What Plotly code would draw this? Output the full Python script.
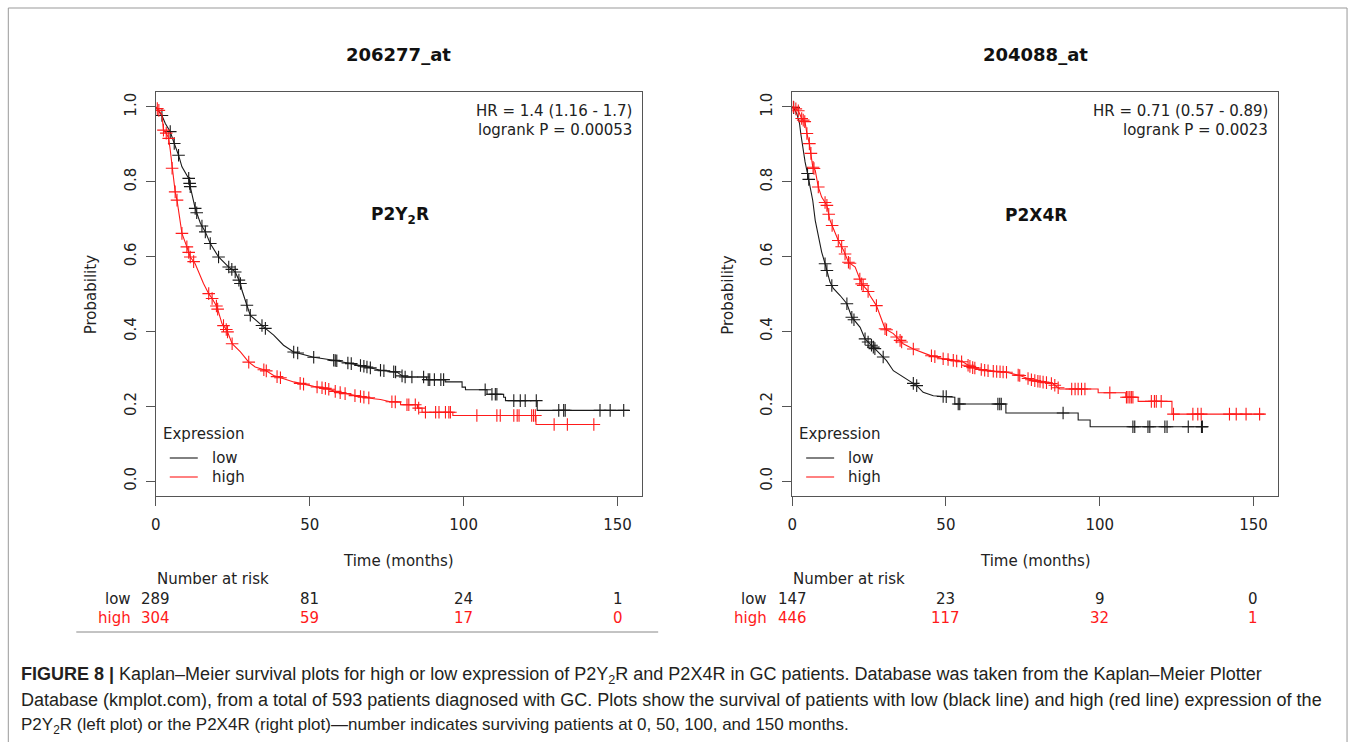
import numpy as np
import plotly.graph_objects as go

W, H = 1355, 742

# ---------------- data ----------------
L_low_t = [0, 2, 3.1, 4.7, 5.8, 7.4, 8.5, 10.7, 11.2, 12.8, 14.5, 16.1, 17.7, 20.4, 23.7, 25.8, 27.5, 28,
           29.6, 30.7, 35, 38.3, 41.5, 44.8, 51.3, 57.8, 66.5, 73, 78.4, 80.5, 88, 88, 94, 94, 99.5, 99.5,
           100.6, 100.6, 107.6, 107.6, 113, 113, 113.6, 113.6, 123.9, 123.9, 153.7]
L_low_s = [1, 0.977, 0.956, 0.934, 0.907, 0.871, 0.840, 0.809, 0.787, 0.729, 0.689, 0.666, 0.635, 0.599, 0.572,
           0.559, 0.528, 0.51, 0.47, 0.443, 0.412, 0.39, 0.363, 0.345, 0.331, 0.323, 0.309, 0.296, 0.291, 0.278,
           0.278, 0.271, 0.271, 0.265, 0.265, 0.251, 0.251, 0.244, 0.244, 0.232, 0.232, 0.224, 0.224, 0.215,
           0.215, 0.189, 0.189]
L_high_t = [0, 0.9, 2, 2.5, 3.4, 4.2, 4.7, 5.3, 6.3, 6.9, 8.5, 10.1, 11.2, 12.8, 14.5, 15.5, 17.2, 18.3, 19.9,
            21.5, 23.1, 24.8, 27.5, 30.2, 32.3, 35.6, 38.3, 44.8, 51.3, 55.6, 58.9, 64.3, 70.8, 73, 76.2, 79.5,
            79.5, 85, 85, 86.5, 86.5, 96.5, 96.5, 123.5, 123.5, 143.9]
L_high_s = [1, 0.992, 0.979, 0.938, 0.93, 0.916, 0.885, 0.836, 0.773, 0.751, 0.662, 0.626, 0.599, 0.581, 0.546,
            0.528, 0.501, 0.488, 0.465, 0.421, 0.403, 0.367, 0.345, 0.318, 0.305, 0.296, 0.282, 0.265, 0.253,
            0.247, 0.238, 0.229, 0.220, 0.218, 0.212, 0.211, 0.204, 0.204, 0.195, 0.195, 0.184, 0.184, 0.175,
            0.175, 0.151, 0.151]
L_low_cens = [2, 4.7, 6, 7.4, 10.7, 11, 11.2, 12.8, 13.3, 15, 16.1, 17.7, 20.4, 23.7, 24.7, 25.8, 27, 27.5,
              29.6, 30.7, 34.5, 35.6, 44.8, 46.1, 51.3, 57.8, 58.3, 58.8, 62.4, 63.5, 66.5, 67.6, 68.6, 69.7,
              73, 74.1, 77.3, 77.9, 80, 81, 83.2, 87, 88.5, 89, 90.5, 92.6, 93.5, 107, 109.2, 110.3, 110.8,
              116.3, 118.4, 120, 123.6, 130.9, 132.5, 133, 144.3, 147.6, 152]
L_high_cens = [0.5, 1, 2.5, 3.4, 4.2, 5.3, 6.3, 6.9, 8.5, 10.1, 10.7, 11.2, 12.3, 17.2, 18.3, 19.7, 20.1, 22,
               22.9, 23.3, 24.8, 30.2, 35.1, 35.9, 39.4, 40.5, 46.9, 48, 52.4, 54, 55.1, 56.2, 58.3, 59.9,
               61.5, 64.7, 66.5, 67.6, 69.2, 76.7, 77.8, 81.6, 82.2, 84.3, 85.4, 87.6, 90.9, 92, 94.1, 95.2,
               95.7, 104.3, 110.8, 111.9, 116.3, 117.4, 118, 122.1, 122.7, 123.3, 129.4, 133.7, 142.3]

R_low_t = [0, 0.4, 1.5, 2.4, 2.8, 3.5, 4.2, 5, 5.8, 6.7, 7.5, 8.5, 9.6, 10.7, 12.3, 13.4, 15.6, 17.8, 19.4,
           22.1, 23.7, 26.4, 28.6, 30.7, 32.9, 37.2, 40.5, 42.6, 45.9, 52.9, 52.9, 69.5, 69.5, 93, 93, 96.9,
           96.9, 135.2]
R_low_s = [1, 1.0, 0.982, 0.956, 0.929, 0.884, 0.853, 0.822, 0.791, 0.75, 0.697, 0.652, 0.612, 0.581, 0.532,
           0.515, 0.496, 0.474, 0.438, 0.411, 0.38, 0.358, 0.34, 0.322, 0.295, 0.273, 0.255, 0.237, 0.228,
           0.224, 0.206, 0.206, 0.182, 0.182, 0.163, 0.163, 0.145, 0.145]
R_high_t = [0, 0.4, 2, 3.1, 4.2, 4.8, 5.6, 6.1, 6.7, 7.5, 8.5, 9.6, 11.3, 12.3, 15, 16.7, 18.3, 20.5, 22.6,
            24.5, 25.3, 27.4, 29.1, 30.2, 32.9, 35.1, 36.1, 39.4, 44.8, 49.1, 55.6, 58.3, 63.2, 69.7, 74, 78.4,
            84.8, 87, 99.5, 99.5, 108.5, 108.5, 112.5, 112.5, 123.5, 123.5, 153.6]
R_high_s = [1, 1.0, 0.99, 0.969, 0.96, 0.929, 0.902, 0.876, 0.84, 0.831, 0.786, 0.759, 0.737, 0.697, 0.643,
            0.617, 0.585, 0.572, 0.527, 0.51, 0.496, 0.469, 0.429, 0.407, 0.394, 0.376, 0.367, 0.353, 0.336,
            0.327, 0.318, 0.304, 0.295, 0.291, 0.282, 0.269, 0.26, 0.246, 0.246, 0.236, 0.236, 0.224, 0.224,
            0.213, 0.213, 0.179, 0.179]
R_low_cens = [0.5, 5.0, 5.4, 10.7, 11.3, 12.9, 17.8, 19.4, 20.1, 23.7, 24.7, 25.8, 26.4, 26.9, 29.6, 39.4,
              40.5, 49.1, 50.1, 54, 54.5, 66.9, 67.5, 68, 88.1, 110.8, 111.4, 115.7, 116.3, 121.2, 121.9,
              128.8, 133.1, 133.4]
R_high_cens = [0.4, 1.2, 2, 3.1, 3.6, 4.1, 4.8, 5.6, 6.1, 6.8, 7.1, 8.5, 10.7, 11.3, 11.9, 13, 15, 16.1,
               17.2, 18.3, 18.8, 22, 22.6, 23.1, 24.7, 27.4, 30.2, 30.7, 34, 35.1, 35.6, 39.4, 45.3, 46.4,
               49.1, 50.7, 52.4, 53.5, 55.1, 57.2, 57.8, 58.7, 59.4, 61.5, 62.6, 63.7, 65.4, 66.5, 67.6, 68.6,
               69.7, 73.5, 74, 76.7, 77.8, 78.9, 79.9, 80.6, 81.6, 82.7, 84.3, 85.4, 86.5, 90.9, 92, 93, 94.1,
               95.2, 103.3, 108.7, 109.2, 109.8, 110.3, 110.8, 116.8, 117.8, 118.4, 120, 124, 130.3, 131.9, 133,
               142.2, 144.4, 147.6, 152]

risk_times = [0, 50, 100, 150]
L_risk_low = [289, 81, 24, 1]
L_risk_high = [304, 59, 17, 0]
R_risk_low = [147, 23, 9, 0]
R_risk_high = [446, 117, 32, 1]

x_ticks = [0, 50, 100, 150]
y_ticks = [0.0, 0.2, 0.4, 0.6, 0.8, 1.0]
y_ticklabels = ["0.0", "0.2", "0.4", "0.6", "0.8", "1.0"]

titles = ["206277_at", "204088_at"]
genes = ["P2Y<sub>2</sub>R", "P2X4R"]
hr_texts = [["HR = 1.4 (1.16 - 1.7)", "logrank P = 0.00053"],
            ["HR = 0.71 (0.57 - 0.89)", "logrank P = 0.0023"]]
caption = [
    "<b>FIGURE 8 |</b> Kaplan\u2013Meier survival plots for high or low expression of P2Y<sub>2</sub>R and P2X4R in GC patients. Database was taken from the Kaplan\u2013Meier Plotter",
    "Database (kmplot.com), from a total of 593 patients diagnosed with GC. Plots show the survival of patients with low (black line) and high (red line) expression of the",
    "P2Y<sub>2</sub>R (left plot) or the P2X4R (right plot)\u2014number indicates surviving patients at 0, 50, 100, and 150 months.",
]

# ---------------- helpers ----------------
# pixel -> paper (with a small horizontal correction measured for the renderer)
def px(x):
    return ((x - 4.7) / 0.9965) / W

def py(y):
    return 1 - y / H

FONT = "DejaVu Sans, Verdana, sans-serif"
BLACK = "#1a1a1a"
RED = "#ff1a1a"

fig = go.Figure()

panels = [
    dict(xa="x", ya="y", xl=155.5, xr=642, low=(L_low_t, L_low_s, L_low_cens),
         high=(L_high_t, L_high_s, L_high_cens), rl=L_risk_low, rh=L_risk_high),
    dict(xa="x2", ya="y2", xl=792, xr=1278, low=(R_low_t, R_low_s, R_low_cens),
         high=(R_high_t, R_high_s, R_high_cens), rl=R_risk_low, rh=R_risk_high),
]

for p in panels:
    for (tt, ss, cc), col in ((p["low"], BLACK), (p["high"], RED)):
        fig.add_trace(go.Scatter(x=tt, y=ss, mode="lines", line=dict(color=col, width=1.1),
                                 xaxis=p["xa"], yaxis=p["ya"], showlegend=False, hoverinfo="skip"))
        cy = np.interp(cc, tt, ss)
        fig.add_trace(go.Scatter(x=cc, y=cy, mode="markers",
                                 marker=dict(symbol="cross-thin", size=9, color=col,
                                             line=dict(width=1.1, color=col)),
                                 xaxis=p["xa"], yaxis=p["ya"], showlegend=False, hoverinfo="skip"))

top, bottom = 92, 496
ax_common = dict(showgrid=False, zeroline=False, showline=True, linecolor="#555", linewidth=1,
                 mirror=True, ticks="outside", ticklen=9, tickcolor="#555", tickwidth=1,
                 tickfont=dict(family=FONT, size=15, color="#222"))
layout = dict(width=W, height=H, autosize=False, margin=dict(l=0, r=0, t=0, b=0),
              paper_bgcolor="white", plot_bgcolor="white", showlegend=False)
for i, p in enumerate(panels):
    sfx = "" if i == 0 else "2"
    layout["xaxis" + sfx] = dict(ax_common, domain=[px(p["xl"]), px(p["xr"])], range=[0, 158],
                                 tickvals=x_ticks, anchor="y" + sfx, ticklabelstandoff=6)
    layout["yaxis" + sfx] = dict(ax_common, domain=[py(bottom), py(top)], range=[-0.04, 1.04],
                                 tickvals=y_ticks, ticktext=y_ticklabels, tickangle=-90,
                                 anchor="x" + sfx, ticklabelstandoff=4)
fig.update_layout(**layout)

ann = []
shapes = []

def text(x, y, s, size=15, color="#222", xanchor="center", bold=False, xref="paper", angle=0, family=FONT):
    ann.append(dict(x=x, y=y, xref=xref, yref="paper", text=("<b>%s</b>" % s) if bold else s,
                    showarrow=False, xanchor=xanchor, yanchor="middle", textangle=angle,
                    font=dict(family=family, size=size, color=color)))

for i, p in enumerate(panels):
    xa = p["xa"]
    cx = (p["xl"] + p["xr"]) / 2
    x0 = p["xl"]
    text(px(cx), py(54), titles[i], size=18, bold=True, color="#111")
    text(px(p["xr"] - 8), py(111), hr_texts[i][0], xanchor="right")
    text(px(p["xr"] - 8), py(130), hr_texts[i][1], xanchor="right")
    text(px(cx + 1), py(215), genes[i], size=17, bold=True, color="#111")
    text(px(cx), py(561), "Time (months)")
    text(px(91 + (x0 - 155.5)), py(295), "Probability", angle=-90)
    text(px(x0 + 5), py(434), "Expression", xanchor="left")
    for yy, lab, col in ((458, "low", BLACK), (477, "high", RED)):
        shapes.append(dict(type="line", xref="paper", yref="paper", x0=px(x0 + 14), x1=px(x0 + 42),
                           y0=py(yy), y1=py(yy), line=dict(color=col, width=1.1)))
        text(px(x0 + 54), py(yy), lab, xanchor="left")
    text(px(x0 + 57), py(579), "Number at risk")
    text(px(x0 - 23), py(599), "low", xanchor="right", color="#222")
    text(px(x0 - 23), py(618), "high", xanchor="right", color=RED)
    for t, a, b in zip(risk_times, p["rl"], p["rh"]):
        ann.append(dict(x=t, y=py(599), xref=xa, yref="paper", text=str(a), showarrow=False,
                        xanchor="center", yanchor="middle",
                        font=dict(family=FONT, size=15, color="#222")))
        ann.append(dict(x=t, y=py(618), xref=xa, yref="paper", text=str(b), showarrow=False,
                        xanchor="center", yanchor="middle",
                        font=dict(family=FONT, size=15, color=RED)))

shapes.append(dict(type="line", xref="paper", yref="paper", x0=px(76), x1=px(658), y0=py(632), y1=py(632),
                   line=dict(color="#888", width=1)))
for (a, b, c, d) in ((8, 8, 1347, 8), (8, 8, 8, 742), (1347, 8, 1347, 742)):
    shapes.append(dict(type="line", xref="paper", yref="paper", x0=px(a), x1=px(c), y0=py(b), y1=py(d),
                       line=dict(color="#999", width=1)))

CAP_FONT = "Liberation Sans, Arial, sans-serif"
for line, yy, sz in zip(caption, (675, 700, 726), (18, 18, 17)):
    text(px(19), py(yy), line, size=sz, color="#231f20", xanchor="left", family=CAP_FONT)

fig.update_layout(annotations=ann, shapes=shapes)
fig.write_html("out.html", config={"displayModeBar": False},
               post_script="document.body.style.margin='0';document.documentElement.style.overflow='hidden';")
